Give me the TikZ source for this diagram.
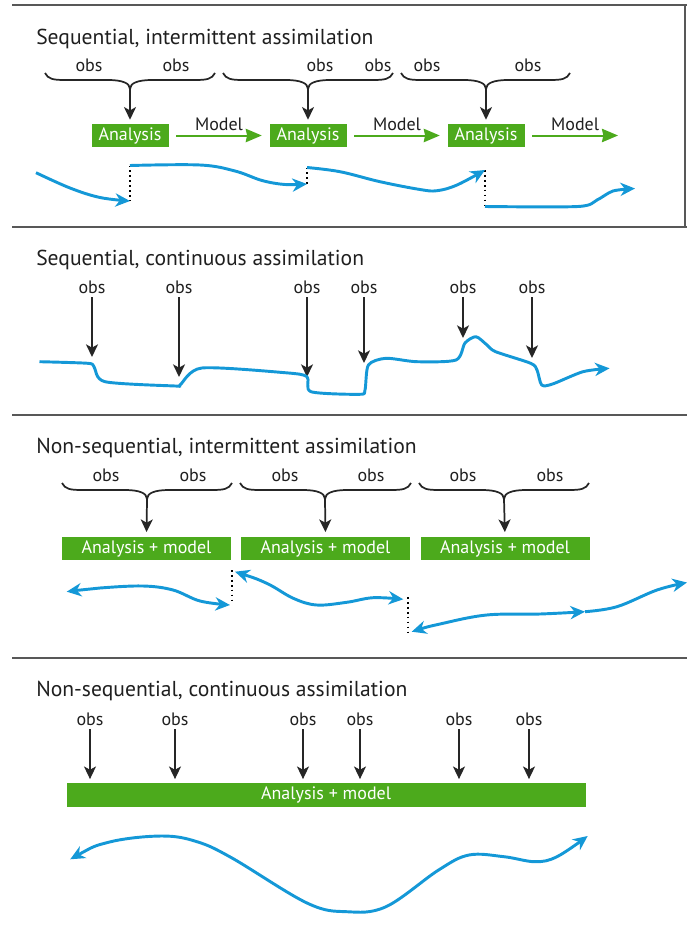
\documentclass[tikz,border=0pt]{standalone}
\usepackage{fontspec}
\setmainfont{PT Sans}
\usetikzlibrary{arrows.meta,positioning}

\definecolor{anagreen}{RGB}{76,170,28}
\definecolor{trajblue}{RGB}{20,152,215}
\definecolor{rulegray}{RGB}{88,88,88}

% brace over the obs: left x, tip x, right x, line y, name of the tip
\newcommand{\obsbrace}[5]{%
  \draw[bracestyle] (#1,#4+7) .. controls (#1+3,#4+1) and (#1+8,#4) .. (#1+20,#4)
    -- (#2-22,#4) .. controls (#2-8,#4) and (#2,#4-3) .. (#2,#4-9)
    .. controls (#2,#4-3) and (#2+8,#4) .. (#2+22,#4)
    -- (#3-20,#4) .. controls (#3-8,#4) and (#3-3,#4+1) .. (#3,#4+7);
  \coordinate (#5) at (#2,#4-9);
}

\begin{document}
\begin{tikzpicture}[x=0.75pt, y=0.75pt]

\tikzset{
    panelrule/.style={draw=rulegray, line width=1.5pt},
    paneltitle/.style={anchor=base west, inner sep=0pt,
        font=\fontsize{16.2}{19}\selectfont, text=black!88},
    obslabel/.style={anchor=base, inner sep=3pt,
        font=\fontsize{13.5}{15}\selectfont, text=black!88},
    bracestyle/.style={draw=black!85, line width=1.3pt},
    obsarrow/.style={draw=black!85, line width=1.3pt,
        -{Stealth[length=9.5pt, width=9pt, inset=2.5pt]}},
    analysisbox/.style={fill=anagreen, text=white, inner sep=0pt,
        minimum height=17.25pt, font=\fontsize{13.5}{15}\selectfont},
    modelarrow/.style={draw=anagreen, line width=1.5pt,
        -{Stealth[length=12pt, width=10pt, inset=1pt]}},
    modellabel/.style={above, inner sep=2pt, yshift=1pt,
        font=\fontsize{13.5}{15}\selectfont, text=black!88},
    traj/.style={draw=trajblue, line width=2.2pt, line join=round},
    tip/.style={-{Stealth[length=11pt, width=10pt, inset=3.5pt]}},
    bothtips/.style={{Stealth[length=11pt, width=10pt, inset=3.5pt]}-{Stealth[length=11pt, width=10pt, inset=3.5pt]}},
    jump/.style={draw=black, line width=1.3pt, dash pattern=on 1.3pt off 2.4pt}
}

\useasboundingbox (0,0) rectangle (687,-928);

% =============================================
% PANEL 1: sequential, intermittent
% =============================================
\begin{scope}[shift={(0,-5)}]
    \draw[panelrule] (12,0) -- (687,0);
    \draw[rulegray, line width=0.8pt] (685,0) -- (685,-222);
    \node[paneltitle] (t1) at (36,-39) {Sequential, intermittent assimilation};

    \foreach \x [count=\i] in {89,176,320,378,427,528}
        \node[obslabel] (o1\i) at (\x,-66) {obs};

    \obsbrace{45}{130}{215}{-75}{b11}
    \obsbrace{223}{308}{393}{-75}{b12}
    \obsbrace{401}{486}{570}{-75}{b13}

    \node[analysisbox, minimum width=57.75pt] (a11) at (130,-130.5) {Analysis};
    \node[analysisbox, minimum width=57.75pt] (a12) at (308,-130.5) {Analysis};
    \node[analysisbox, minimum width=57.75pt] (a13) at (486,-130.5) {Analysis};

    \foreach \i in {1,2,3}
        \draw[obsarrow, shorten >=3pt] (b1\i) -- (a1\i.north);

    \coordinate (e13) at (618,-130.5);
    \draw[modelarrow] ([xshift=5.6pt]a11.east) -- node[modellabel] (m11) {Model} ([xshift=-5.6pt]a12.west);
    \draw[modelarrow] ([xshift=5.6pt]a12.east) -- node[modellabel] (m12) {Model} ([xshift=-5.6pt]a13.west);
    \draw[modelarrow] ([xshift=5.6pt]a13.east) -- node[modellabel] (m13) {Model} (e13);

    % trajectory with jumps at each analysis
    \coordinate (j1a) at (130,-160.5);  \coordinate (j1b) at (130,-196);
    \coordinate (j2a) at (307,-162.5);  \coordinate (j2b) at (307,-179);
    \coordinate (j3a) at (485,-165);    \coordinate (j3b) at (485,-201.5);
    \draw[jump] (j1a) -- (j1b);
    \draw[jump] (j2a) -- (j2b);
    \draw[jump] (j3a) -- (j3b);

    \draw[traj, tip] plot[smooth, tension=0.6] coordinates {(36,-167.7) (70,-183) (100,-192.5) (j1b)};
    \draw[traj, tip] plot[smooth, tension=0.6] coordinates {(j1a) (200,-160) (235,-166) (262,-175.5) (285,-179.5) (j2b)};
    \draw[traj, tip] plot[smooth, tension=0.6] coordinates {(j2a) (340,-166.7) (380,-176.7) (420,-184.5) (437,-185.7) (457,-180) (j3a)};
    \draw[traj, tip] plot[smooth, tension=0.5] coordinates {(j3b) (578,-201.5) (597,-195) (613,-186) (635,-183.5)};
\end{scope}

% =============================================
% PANEL 2: sequential, continuous
% =============================================
\begin{scope}[shift={(0,-227)}]
    \draw[panelrule] (12,0) -- (687,0);
    \node[paneltitle] (t2) at (36,-38) {Sequential, continuous assimilation};

    \foreach \x [count=\i] in {92,179,307,364,463,532}
        \node[obslabel] (o2\i) at (\x,-66) {obs};

    \coordinate (p1) at (92,-130);
    \coordinate (p2) at (179,-150);
    \coordinate (p3) at (307,-150);
    \coordinate (p4) at (364,-136);
    \coordinate (p5) at (463,-111);
    \coordinate (p6) at (532,-131);
    \foreach \i in {1,...,6}
        \draw[obsarrow] (o2\i) -- (p\i);

    \draw[traj, tip] plot[smooth, tension=0.45] coordinates {
        (39.5,-134.7) (87.7,-136.3) (94,-139.7) (105,-154.7) (175.4,-159)
        (180,-158) (201.8,-141) (285,-145.7) (307,-149.7) (311,-164.7)
        (359.6,-167.3) (365,-163) (368.4,-138) (386,-131.3) (416.7,-134.7)
        (456,-133) (465,-116) (476,-109.7) (487,-118) (495.6,-124.7)
        (530.7,-136.3) (537,-143) (541.7,-158) (552.6,-157) (583,-144.7)
        (609.6,-141.3)};
\end{scope}

% =============================================
% PANEL 3: non-sequential, intermittent
% =============================================
\begin{scope}[shift={(0,-415)}]
    \draw[panelrule] (12,0) -- (687,0);
    \node[paneltitle] (t3) at (36,-38) {Non-sequential, intermittent assimilation};

    \foreach \x [count=\i] in {106,193,285,371,463,550}
        \node[obslabel] (o3\i) at (\x,-66) {obs};

    \obsbrace{62}{147}{232}{-75}{b31}
    \obsbrace{240}{325}{411}{-75}{b32}
    \obsbrace{419}{504}{589}{-75}{b33}

    \node[analysisbox, minimum width=126.75pt] (a31) at (146.5,-133.5) {Analysis + model};
    \node[analysisbox, minimum width=126.75pt] (a32) at (325.5,-133.5) {Analysis + model};
    \node[analysisbox, minimum width=126.75pt] (a33) at (505,-133.5) {Analysis + model};

    \foreach \i in {1,2,3}
        \draw[obsarrow, shorten >=3.5pt] (b3\i) -- (a3\i.north);

    % windows joined by jumps
    \coordinate (k1a) at (232,-155);  \coordinate (k1b) at (232,-189);
    \coordinate (k2a) at (408,-182);  \coordinate (k2b) at (408,-217);
    \draw[jump] (k1a) -- (k1b);
    \draw[jump] (k2a) -- (k2b);

    \draw[traj, bothtips] plot[smooth, tension=0.6] coordinates {(66.7,-176.7) (100,-173) (143,-171) (173,-175) (200,-186) (230,-190)};
    \draw[traj, bothtips] plot[smooth, tension=0.6] coordinates {(235,-156.7) (266.7,-168.3) (293.3,-183.3) (316.7,-190) (346.7,-187.3) (373.3,-182.7) (403.3,-184.3)};
    \coordinate (q3) at (585,-196.7);
    \draw[traj, bothtips] plot[smooth, tension=0.6] coordinates {(411.7,-216.7) (440,-209) (486.7,-200) (540,-199) (q3)};
    \draw[traj, tip] plot[smooth, tension=0.6] coordinates {(q3) (617,-191.7) (657,-175) (687,-167.5)};
\end{scope}

% =============================================
% PANEL 4: non-sequential, continuous
% =============================================
\begin{scope}[shift={(0,-658)}]
    \draw[panelrule] (12,0) -- (687,0);
    \node[paneltitle] (t4) at (36,-38.7) {Non-sequential, continuous assimilation};

    \node[analysisbox, minimum width=389.1pt, minimum height=18pt] (bar) at (326.1,-136.7) {Analysis + model};

    \foreach \x [count=\i] in {90,175,303,360,459,529} {
        \node[obslabel] (o4\i) at (\x,-67) {obs};
        \draw[obsarrow, shorten >=2.5pt] (o4\i) -- (o4\i |- bar.north);
    }

    \draw[traj, bothtips] plot[smooth, tension=0.6] coordinates {
        (70.2,-201.3) (109.6,-184) (162,-178) (197,-183.7) (232,-200)
        (307,-245) (346.5,-253.7) (386,-248.7) (438.6,-212) (469,-197)
        (504,-198.7) (535,-203.7) (557,-198.7) (587.7,-178)};
\end{scope}

\end{tikzpicture}
\end{document}
